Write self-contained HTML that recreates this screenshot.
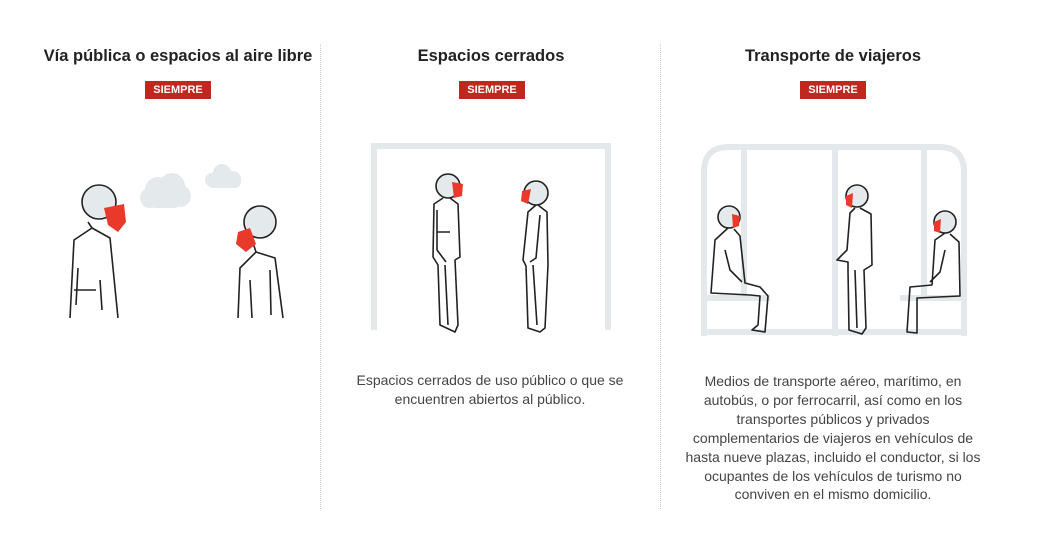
<!DOCTYPE html>
<html><head><meta charset="utf-8"><style>
body{margin:0;width:1047px;height:544px;background:#fff;font-family:"Liberation Sans",sans-serif;position:relative;overflow:hidden}
.t{position:absolute;font-weight:bold;font-size:16.5px;color:#222;text-align:center;width:320px;top:47px}
.b{position:absolute;top:81px;height:18px;background:#c0281e;color:#fff;font-size:11px;font-weight:bold;line-height:18px;text-align:center;width:66px}
.d{position:absolute;top:44px;height:465px;border-left:1px dotted #ccc}
.p{position:absolute;font-size:14px;color:#444;text-align:center;line-height:18.9px}
svg{position:absolute;left:0;top:0}
</style></head><body>
<div class="t" style="left:18px">Vía pública o espacios al aire libre</div>
<div class="t" style="left:331px">Espacios cerrados</div>
<div class="t" style="left:673px">Transporte de viajeros</div>
<div class="b" style="left:145px">SIEMPRE</div>
<div class="b" style="left:459px">SIEMPRE</div>
<div class="b" style="left:800px">SIEMPRE</div>
<div class="d" style="left:320px"></div>
<div class="d" style="left:660px"></div>
<div class="p" style="left:340px;width:300px;top:371px">Espacios cerrados de uso público o que se<br>encuentren abiertos al público.</div>
<div class="p" style="left:678px;width:310px;top:372px">Medios de transporte aéreo, marítimo, en<br>autobús, o por ferrocarril, así como en los<br>transportes públicos y privados<br>complementarios de viajeros en vehículos de<br>hasta nueve plazas, incluido el conductor, si los<br>ocupantes de los vehículos de turismo no<br>conviven en el mismo domicilio.</div>
<svg width="1047" height="544" viewBox="0 0 1047 544">
<g fill="#e4e9ec">
<circle cx="158" cy="190" r="13"/><circle cx="172" cy="186" r="13"/><circle cx="180" cy="196" r="11"/><circle cx="150" cy="198" r="10"/><rect x="148" y="192" width="34" height="16" rx="8"/>
<circle cx="222" cy="173" r="9"/><circle cx="233" cy="179" r="8"/><circle cx="212" cy="180" r="7"/><rect x="207" y="176" width="34" height="12" rx="6"/>
</g>
<g fill="none" stroke="#e3e8ea" stroke-width="6">
<path d="M374 330V146H608V330"/>
<path d="M704 336V172Q704 147 729 147H939Q964 147 964 172V336"/>
<path d="M744 150V300M835 150V336M924 150V300M704 332H964M704 298H770M900 298H964"/>
</g>
<g stroke="#222" stroke-width="1.6" fill="none" stroke-linejoin="round">
<circle cx="99" cy="202" r="17" fill="#e4e9ec"/>
<path d="M88 222L92 228 74 240 70 318M92 228L110 238 118 318M78 268L76 305M100 280L102 310M74 290H96"/>
<circle cx="260" cy="222" r="16" fill="#e4e9ec"/>
<path d="M253 243L256 252 240 268 238 318M256 252L275 258 283 318M270 270L271 315M250 280L252 318"/>
<circle cx="448" cy="186" r="12" fill="#e4e9ec"/>
<path d="M443 198L434 204 433 257 438 265 440 325 455 332 458 325 455 260 460 257 458 204 450 198M445 265L448 325M437 210L437 250 446 262M437 232H450"/>
<circle cx="536" cy="193" r="12" fill="#e4e9ec"/>
<path d="M536 205L528 212 523 260 526 266 528 328 540 332 545 328 548 265 547 212 538 205M533 265L537 325M540 215L536 258 530 262"/>
<circle cx="729" cy="217" r="11" fill="#e4e9ec"/>
<path d="M728 228L715 240 711 293 750 295 760 296 758 325 752 330 765 332 768 296 760 287 745 283 740 236 734 229M725 250L730 270 742 282"/>
<circle cx="857" cy="196" r="11" fill="#e4e9ec"/>
<path d="M855 208L850 213 847 250 837 260 848 262 848 270 849 330 862 334 866 328 864 270 872 265 871 214 860 208M855 270L857 328"/>
<circle cx="945" cy="222" r="11" fill="#e4e9ec"/>
<path d="M945 233L935 240 932 285 910 287 907 332 917 333 917 298 960 296 959 242 950 234M945 250L940 272 930 282"/>
</g>
<g fill="#e8392a">
<path d="M104 208L124 204 126 222 118 232 108 225Z"/>
<path d="M250 228L238 232 236 244 246 252 256 244Z"/>
<path d="M452 182L463 184 462 196 454 198Z"/>
<path d="M531 189L522 191 521 201 528 204Z"/>
<path d="M732 214L740 216 739 226 733 228Z"/>
<path d="M853 193L846 196 846 205 852 208Z"/>
<path d="M941 219L934 222 934 231 940 233Z"/>
</g>
</svg>
</body></html>
